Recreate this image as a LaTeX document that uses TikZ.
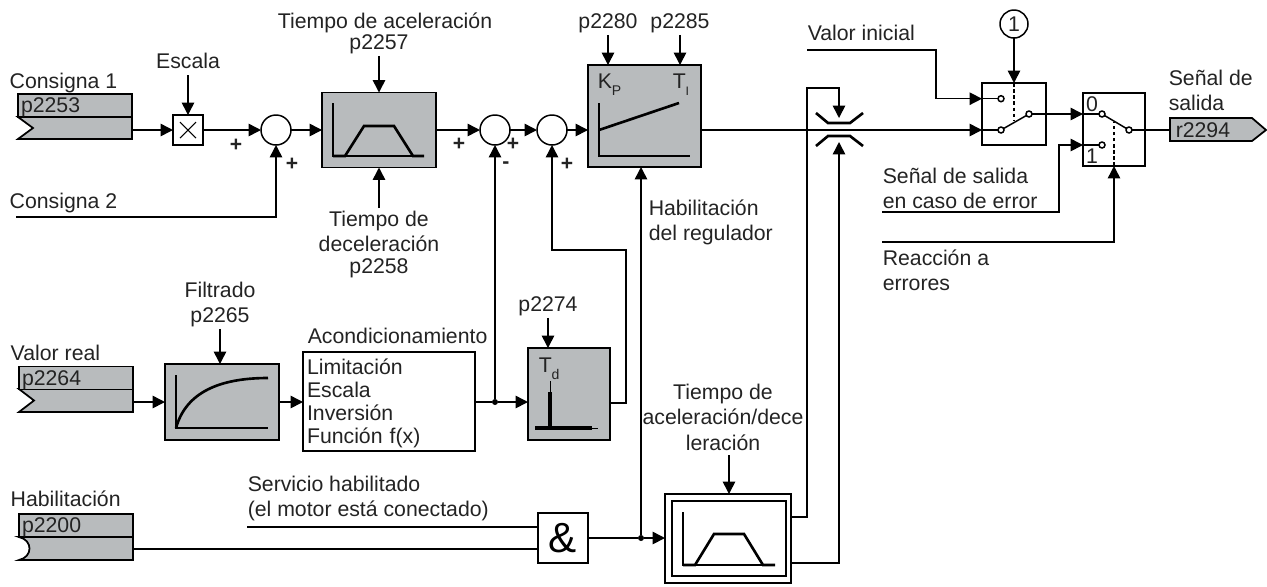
\documentclass[tikz,border=0pt]{standalone}
\usepackage{fontspec}
\setmainfont{Liberation Sans}
\usepackage{xcolor}
\definecolor{blockgray}{RGB}{184,187,189}
\definecolor{dark}{RGB}{35,35,35}
\usetikzlibrary{arrows.meta, positioning, calc}
\tikzset{
    lbl/.style={inner ysep=1pt, inner xsep=0pt, text depth=0.21em, yshift=-1.7pt, text=dark, font=\fontsize{12.1}{14.5}\selectfont},
    lblw/.style={lbl, anchor=west, align=left},
    lblc/.style={lbl, align=center},
    sign/.style={inner sep=0pt, text=dark, font=\fontsize{12}{13}\bfseries\selectfont},
    arr/.style={-{Triangle[length=7pt,width=7pt]}},
    wire/.style={line width=0.85pt},
    graybox/.style={draw, fill=blockgray, line width=1pt, inner sep=0pt, outer sep=0pt},
    whitebox/.style={draw, fill=white, line width=0.85pt, inner sep=0pt, outer sep=0pt},
    barbox/.style={draw, fill=blockgray, line width=1pt, outer sep=0pt, inner ysep=0pt, inner xsep=0.06cm, text width=2.16cm, minimum height=0.46cm, text depth=0pt, align=left, text=dark, font=\fontsize{12.1}{14}\selectfont},
    barpath/.style={draw, fill=blockgray, line width=1pt},
    sumnode/.style={circle, draw, fill=white, line width=0.85pt, minimum size=0.6cm, inner sep=0pt, outer sep=0pt},
    contact/.style={circle, draw, fill=white, line width=0.85pt, minimum size=0.12cm, inner sep=0pt, outer sep=0pt},
    joint/.style={circle, fill=black, minimum size=0.12cm, inner sep=0pt, outer sep=0pt},
    axis/.style={line width=0.85pt},
    curve/.style={line width=1.5pt},
    ctrl/.style={line width=0.85pt, dash pattern=on 2pt off 1.5pt}
}
\begin{document}
\begin{tikzpicture}[x=0.02cm, y=-0.02cm, wire]
    \useasboundingbox (0,0) rectangle (1267,586);

    % input bars
    \draw[barpath] (18,117) -- (33,128) -- (18,139) -- (132,139) -- (132,117) -- cycle;
    \node[barbox] (barA) at (75,105.5) {p2253};
    \draw[barpath] (19,389) -- (34,400.5) -- (19,412) -- (133,412) -- (133,389) -- cycle;
    \node[barbox] (barB) at (76,378) {p2264};
    \draw[barpath] (19,537) .. controls (33,540) and (33,557) .. (19,560) -- (133,560) -- (133,537) -- cycle;
    \node[barbox] (barC) at (76,525.5) {p2200};
    \coordinate (barAout) at (132,130);
    \coordinate (barBout) at (133,402);
    \coordinate (barCout) at (133,549);

    % blocks
    \node[whitebox, minimum size=0.6cm] (scale) at (188,130) {};
    \draw[line width=0.6pt] (180,122) -- (196,138) (196,122) -- (180,138);
    \node[sumnode] (sumA) at (276,130) {};
    \node[sumnode] (sumB) at (495,130) {};
    \node[sumnode] (sumC) at (552,130) {};
    \node[graybox, minimum width=2.28cm, minimum height=1.5cm] (rampA) at (379,130) {};
    \draw[axis] (333,103) -- (333,156) -- (424,156);
    \draw[curve] (333,156) -- (345,156) -- (364,126) -- (394,126) -- (413,156) -- (424,156);
    \node[graybox, minimum width=2.26cm, minimum height=2.04cm] (pid) at (644.5,116) {};
    \draw[axis] (599,103) -- (599,156) -- (690,156);
    \draw[curve] (599,130) -- (679,103);
    \node[lbl, anchor=west] (kp) at (597,80) {K\raisebox{-4pt}{\fontsize{8}{9}\selectfont P}};
    \node[lbl, anchor=west] (ti) at (672,80) {T\raisebox{-4pt}{\fontsize{7}{9}\selectfont I}};
    \node[graybox, minimum width=2.28cm, minimum height=1.52cm] (filter) at (222,402) {};
    \draw[axis] (176,375) -- (176,428) -- (268,428);
    \draw[curve] (176,428) .. controls (186,392) and (220,378) .. (268,378);
    \node[whitebox, minimum width=3.44cm, minimum height=1.98cm, text width=3.28cm, align=left, text=dark, font=\fontsize{12.1}{13}\selectfont] (cond) at (389,401.5) {\rule{0pt}{11pt}Limitación\\Escala\\Inversión\\Función f(x)};
    \node[graybox, minimum width=1.64cm, minimum height=1.84cm] (deriv) at (569,394) {};
    \node[lbl, anchor=west] (td) at (538,364) {T\raisebox{-4pt}{\fontsize{8}{9}\selectfont d}};
    \draw[line width=0.4pt] (550,381) -- (550,392);
    \draw[line width=2pt] (550,392) -- (550,428);
    \draw[line width=2pt] (535,428) -- (592,428);
    \draw[line width=0.4pt] (592,428) -- (598,428);
    \node[whitebox, minimum size=1cm, font=\fontsize{24}{26}\selectfont] (andgate) at (563,538) {\&};
    \node[whitebox, minimum width=2.52cm, minimum height=1.78cm] (rampB) at (728,538.5) {};
    \node[whitebox, minimum width=2.28cm, minimum height=1.5cm] (rampBin) at (729,538.5) {};
    \draw[axis] (683,512) -- (683,565) -- (775,565);
    \draw[curve] (683,565) -- (695,565) -- (714,534) -- (744,534) -- (763,565) -- (775,565);

    % limiter
    \draw[curve] (816,113) -- (828,123) -- (850,123) -- (863,113);
    \draw[curve] (816,146) -- (828,136) -- (850,136) -- (863,146);
    \coordinate (limTop) at (839,118);
    \coordinate (limBot) at (839,142);

    % switches
    \node[whitebox, minimum width=1.28cm, minimum height=1.24cm] (switchA) at (1014,114) {};
    \node[contact] (contA1) at (1001,98.7) {};
    \node[contact] (contA2) at (1001,130) {};
    \node[contact] (contA3) at (1029,114) {};
    \node[whitebox, minimum width=1.24cm, minimum height=1.46cm] (switchB) at (1114,129.5) {};
    \node[contact] (contB1) at (1102,114) {};
    \node[contact] (contB2) at (1102,145) {};
    \node[contact] (contB3) at (1129,130) {};
    \node[lbl, inner sep=0pt] (zero) at (1092,103) {0};
    \node[lbl, inner sep=0pt] (one) at (1092,155) {1};
    \node[circle, draw, fill=white, line width=0.85pt, minimum size=0.56cm, inner sep=0pt, outer sep=0pt, text=dark, font=\fontsize{12.1}{14}\selectfont] (num) at (1014,24) {1};
    \draw[barpath] (1170,118) -- (1252,118) -- (1266,130) -- (1252,141) -- (1170,141) -- cycle;
    \node[anchor=west, inner sep=0pt, text=dark, font=\fontsize{12.1}{14}\selectfont] (outtext) at (1175,130.5) {r2294};
    \coordinate (outBar) at (1170,130);

    % labels
    \node[lblw] (consA) at (9,80) {Consigna 1};
    \node[lblw] (consB) at (9,200) {Consigna 2};
    \node[lblc] (escala) at (188,60) {Escala};
    \node[lblc] (taccel) at (385,20) {Tiempo de aceleración};
    \node[lblc] (pAccel) at (379,41) {p2257};
    \node[lblc] (tdecel) at (379,241) {Tiempo de\\deceleración\\[-2pt]p2258};
    \node[lblc] (pKp) at (608,20) {p2280};
    \node[lblc] (pTi) at (680,20) {p2285};
    \node[lblw] (valini) at (807,32) {Valor inicial};
    \node[lblw] (habreg) at (648,219) {Habilitación\\del regulador};
    \node[lblw] (errval) at (882,187) {Señal de salida\\en caso de error};
    \node[lblw] (reacc) at (882,269) {Reacción a\\errores};
    \node[lblw] (salida) at (1168,89) {Señal de\\salida};
    \node[lblc] (filt) at (220,301) {Filtrado\\p2265};
    \node[lblw] (valreal) at (10,352) {Valor real};
    \node[lblw] (acond) at (307,335) {Acondicionamiento};
    \node[lblc] (pTd) at (548,303) {p2274};
    \node[lblc] (taccdec) at (723,416) {Tiempo de\\aceleración/dece\\leración};
    \node[lblw] (habil) at (10,498) {Habilitación};
    \node[lblw] (serv) at (247,495) {Servicio habilitado\\(el motor está conectado)};

    % signs
    \node[sign] (sgnA) at (236,145) {+};
    \node[sign] (sgnB) at (292,164) {+};
    \node[sign] (sgnC) at (459,144) {+};
    \node[sign] (sgnD) at (513,144) {+};
    \node[sign] (sgnE) at (506,165) {-};
    \node[sign] (sgnF) at (567,164) {+};

    % junctions and free ends
    \node[joint] (jctA) at (495,402) {};
    \node[joint] (jctB) at (641,538) {};
    \coordinate (consBin) at (16,217);
    \coordinate (derivOut) at (610,403);
    \coordinate (derivTurn) at (626,250);
    \coordinate (taccdecOut) at (729,455);
    \coordinate (rampOutA) at (791,517);
    \coordinate (rampOutB) at (791,563);
    \coordinate (limTurn) at (807,88);
    \coordinate (valIn) at (807,50);
    \coordinate (valTurn) at (936,98.7);
    \coordinate (errIn) at (882,212);
    \coordinate (errTurn) at (1059,145);
    \coordinate (reacIn) at (882,242);
    \coordinate (servIn) at (247,527);

    % upper signal path
    \draw[arr] (barAout) -- (scale);
    \draw[arr] (escala) -- (scale);
    \draw[arr] (scale) -- (sumA);
    \draw[arr] (consBin) -| (sumA);
    \draw[arr] (sumA) -- (rampA);
    \draw[arr] (pAccel) -- (rampA);
    \draw[arr] (tdecel) -- (rampA);
    \draw[arr] (rampA) -- (sumB);
    \draw[arr] (sumB) -- (sumC);
    \draw[arr] (sumC.east) -- (sumC.east -| pid.west);
    \draw[arr] (pKp.south) -- (pKp.south |- pid.north);
    \draw[arr] (pTi.south) -- (pTi.south |- pid.north);
    \draw[arr] (pid.east |- contA2) -- (contA2 -| switchA.west);
    \draw (contA2 -| switchA.west) -- (contA2);

    % actual value path
    \draw[arr] (barBout) -- (barBout -| filter.west);
    \draw[arr] (filt.south) -- (filt.south |- filter.north);
    \draw[arr] (filter.east) -- (cond.west |- filter.east);
    \draw (cond.east |- jctA) -- (jctA);
    \draw[arr] (jctA) -- (jctA -| deriv.west);
    \draw[arr] (jctA) -- (sumB);
    \draw[arr] (pTd.south) -- (pTd.south |- deriv.north);
    \draw[arr] (derivOut) -| (derivTurn) -| (sumC);

    % enable path
    \draw (barCout) -- (barCout -| andgate.west);
    \draw (servIn) -- (servIn -| andgate.west);
    \draw (andgate.east) -- (jctB);
    \draw[arr] (jctB) -- (rampB.west |- jctB);
    \draw[arr] (jctB) -- (jctB |- pid.south);
    \draw[arr] (taccdecOut) -- (taccdecOut |- rampB.north);
    \draw[arr] (rampOutA) -| (limTurn) -| (limTop);
    \draw[arr] (rampOutB) -| (limBot);

    % switch wiring
    \draw[arr] (valIn) -| (valTurn) -- (contA1 -| switchA.west);
    \draw (contA1 -| switchA.west) -- (contA1);
    \draw (contA2) -- (contA3);
    \draw[arr] (num) -- (switchA);
    \draw[ctrl] (switchA.north) -- ++(0,38);
    \draw[arr] (contA3) -- (contA3 -| switchB.west);
    \draw (contA3 -| switchB.west) -- (contB1);
    \draw (contB1) -- (contB3);
    \draw[arr] (errIn) -| (errTurn) -- (contB2 -| switchB.west);
    \draw (contB2 -| switchB.west) -- (contB2);
    \draw[arr] (reacIn) -| (switchB.south);
    \draw[ctrl] (switchB.south) -- ++(0,-44);
    \draw (contB3) -- (contB3 -| outBar);
\end{tikzpicture}
\end{document}
